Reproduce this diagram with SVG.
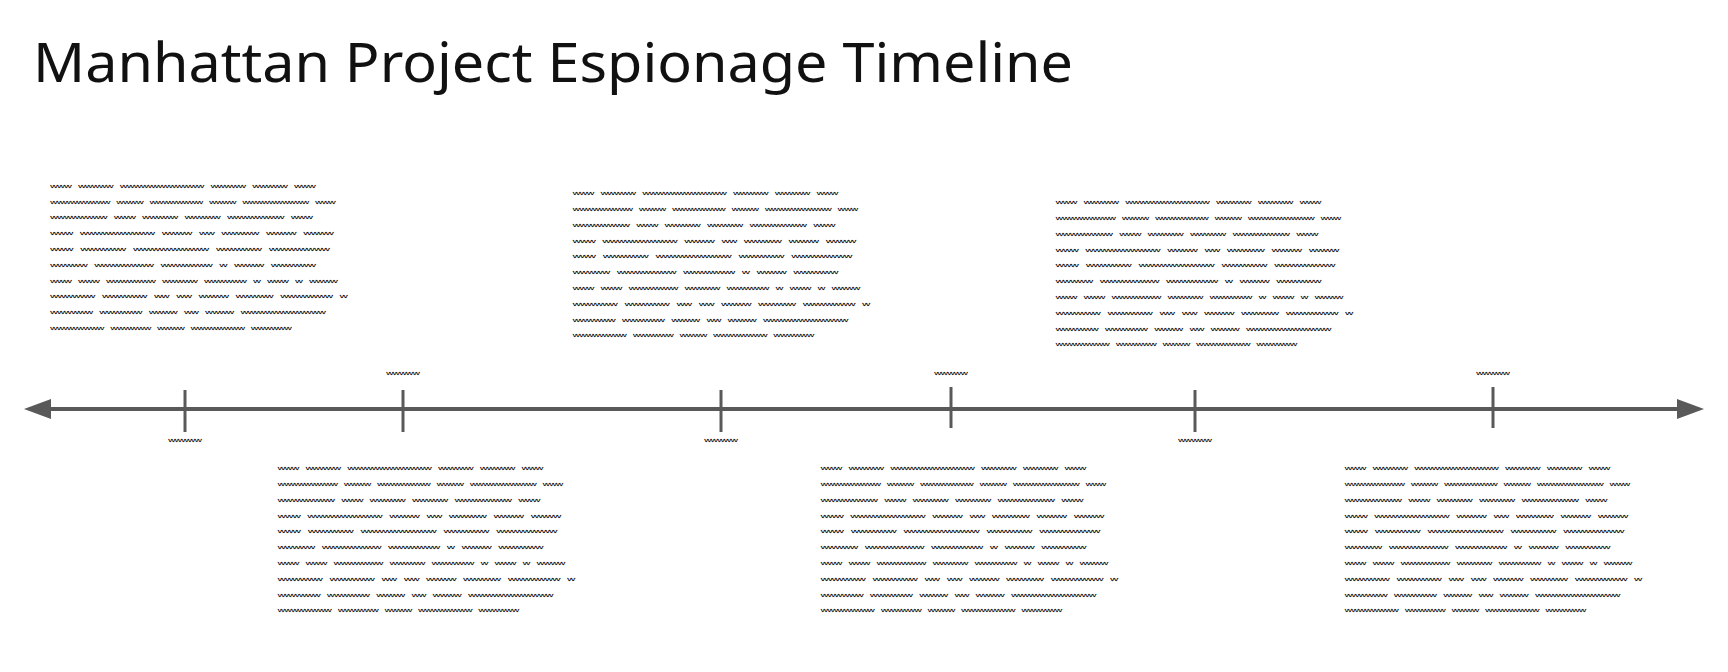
<svg xmlns="http://www.w3.org/2000/svg" width="1728" height="672" viewBox="0 0 1728 672">
<style>
.title{font-family:"Noto Sans","Open Sans",sans-serif;font-size:54px;fill:#111}
.p{font-family:"Noto Sans CJK SC","Noto Sans CJK JP",sans-serif;font-size:9px;fill:#111;stroke:#111;stroke-width:0.4}
.lbl{font-family:"Noto Sans CJK SC","Noto Sans CJK JP",sans-serif;font-size:9px;fill:#111;stroke:#111;stroke-width:0.4;text-anchor:middle}
.axis{stroke:#595959;stroke-width:4;fill:none}
.tick{stroke:#595959;stroke-width:3}
</style>
<defs>
<marker id="arr" viewBox="0 0 27 20" refX="0" refY="10" markerWidth="27" markerHeight="20" markerUnits="userSpaceOnUse" orient="auto-start-reverse">
<path d="M0,0 L27,10 L0,20 Z" fill="#595959"/>
</marker>
</defs>
<rect width="1728" height="672" fill="#fff"/>
<g id="title"><text class="title" x="33" y="82" textLength="1040" lengthAdjust="spacingAndGlyphs">Manhattan Project Espionage Timeline</text></g>
<g id="connectors">
<line class="axis" x1="51" y1="409" x2="1677" y2="409" marker-start="url(#arr)" marker-end="url(#arr)"/>
</g>
<g id="event-1">
<line class="tick" x1="185" y1="390" x2="185" y2="432"/>
<text class="lbl" transform="translate(185,441) scale(1,1.25)" x="0" y="3.42" textLength="33" lengthAdjust="spacingAndGlyphs">〰〰〰〰〰</text>
<g transform="translate(50.5,186.5) scale(1,1.25)">
<text class="p" x="0" y="3.42" textLength="265" lengthAdjust="spacingAndGlyphs">〰〰〰&#12288;〰〰〰〰〰&#12288;〰〰〰〰〰〰〰〰〰〰〰〰&#12288;〰〰〰〰〰&#12288;〰〰〰〰〰&#12288;〰〰〰</text>
<text class="p" x="0" y="16.06" textLength="285" lengthAdjust="spacingAndGlyphs">〰〰〰〰〰〰〰〰〰&#12288;〰〰〰〰&#12288;〰〰〰〰〰〰〰〰&#12288;〰〰〰〰&#12288;〰〰〰〰〰〰〰〰〰〰&#12288;〰〰〰</text>
<text class="p" x="0" y="28.7" textLength="262" lengthAdjust="spacingAndGlyphs">〰〰〰〰〰〰〰〰&#12288;〰〰〰&#12288;〰〰〰〰〰&#12288;〰〰〰〰〰&#12288;〰〰〰〰〰〰〰〰&#12288;〰〰〰</text>
<text class="p" x="0" y="41.34" textLength="283" lengthAdjust="spacingAndGlyphs">〰〰〰&#12288;〰〰〰〰〰〰〰〰〰〰&#12288;〰〰〰〰&#12288;〰〰&#12288;〰〰〰〰〰&#12288;〰〰〰〰&#12288;〰〰〰〰</text>
<text class="p" x="0" y="53.98" textLength="279" lengthAdjust="spacingAndGlyphs">〰〰〰&#12288;〰〰〰〰〰〰&#12288;〰〰〰〰〰〰〰〰〰〰&#12288;〰〰〰〰〰〰&#12288;〰〰〰〰〰〰〰〰</text>
<text class="p" x="0" y="66.62" textLength="265" lengthAdjust="spacingAndGlyphs">〰〰〰〰〰&#12288;〰〰〰〰〰〰〰〰&#12288;〰〰〰〰〰〰〰&#12288;〰&#12288;〰〰〰〰&#12288;〰〰〰〰〰〰</text>
<text class="p" x="0" y="79.26" textLength="287" lengthAdjust="spacingAndGlyphs">〰〰〰&#12288;〰〰〰&#12288;〰〰〰〰〰〰〰&#12288;〰〰〰〰〰&#12288;〰〰〰〰〰〰&#12288;〰&#12288;〰〰〰&#12288;〰&#12288;〰〰〰〰</text>
<text class="p" x="0" y="91.9" textLength="297" lengthAdjust="spacingAndGlyphs">〰〰〰〰〰〰&#12288;〰〰〰〰〰〰&#12288;〰〰&#12288;〰〰&#12288;〰〰〰〰&#12288;〰〰〰〰〰&#12288;〰〰〰〰〰〰〰&#12288;〰</text>
<text class="p" x="0" y="104.54" textLength="275" lengthAdjust="spacingAndGlyphs">〰〰〰〰〰〰&#12288;〰〰〰〰〰〰&#12288;〰〰〰〰&#12288;〰〰&#12288;〰〰〰〰&#12288;〰〰〰〰〰〰〰〰〰〰〰〰</text>
<text class="p" x="0" y="117.18" textLength="241" lengthAdjust="spacingAndGlyphs">〰〰〰〰〰〰〰〰&#12288;〰〰〰〰〰〰&#12288;〰〰〰〰&#12288;〰〰〰〰〰〰〰〰&#12288;〰〰〰〰〰〰</text>
</g>
</g>
<g id="event-2">
<line class="tick" x1="403" y1="390" x2="403" y2="432"/>
<text class="lbl" transform="translate(403,374) scale(1,1.25)" x="0" y="3.42" textLength="33" lengthAdjust="spacingAndGlyphs">〰〰〰〰〰</text>
<g transform="translate(278,469) scale(1,1.25)">
<text class="p" x="0" y="3.42" textLength="265" lengthAdjust="spacingAndGlyphs">〰〰〰&#12288;〰〰〰〰〰&#12288;〰〰〰〰〰〰〰〰〰〰〰〰&#12288;〰〰〰〰〰&#12288;〰〰〰〰〰&#12288;〰〰〰</text>
<text class="p" x="0" y="16.06" textLength="285" lengthAdjust="spacingAndGlyphs">〰〰〰〰〰〰〰〰〰&#12288;〰〰〰〰&#12288;〰〰〰〰〰〰〰〰&#12288;〰〰〰〰&#12288;〰〰〰〰〰〰〰〰〰〰&#12288;〰〰〰</text>
<text class="p" x="0" y="28.7" textLength="262" lengthAdjust="spacingAndGlyphs">〰〰〰〰〰〰〰〰&#12288;〰〰〰&#12288;〰〰〰〰〰&#12288;〰〰〰〰〰&#12288;〰〰〰〰〰〰〰〰&#12288;〰〰〰</text>
<text class="p" x="0" y="41.34" textLength="283" lengthAdjust="spacingAndGlyphs">〰〰〰&#12288;〰〰〰〰〰〰〰〰〰〰&#12288;〰〰〰〰&#12288;〰〰&#12288;〰〰〰〰〰&#12288;〰〰〰〰&#12288;〰〰〰〰</text>
<text class="p" x="0" y="53.98" textLength="279" lengthAdjust="spacingAndGlyphs">〰〰〰&#12288;〰〰〰〰〰〰&#12288;〰〰〰〰〰〰〰〰〰〰&#12288;〰〰〰〰〰〰&#12288;〰〰〰〰〰〰〰〰</text>
<text class="p" x="0" y="66.62" textLength="265" lengthAdjust="spacingAndGlyphs">〰〰〰〰〰&#12288;〰〰〰〰〰〰〰〰&#12288;〰〰〰〰〰〰〰&#12288;〰&#12288;〰〰〰〰&#12288;〰〰〰〰〰〰</text>
<text class="p" x="0" y="79.26" textLength="287" lengthAdjust="spacingAndGlyphs">〰〰〰&#12288;〰〰〰&#12288;〰〰〰〰〰〰〰&#12288;〰〰〰〰〰&#12288;〰〰〰〰〰〰&#12288;〰&#12288;〰〰〰&#12288;〰&#12288;〰〰〰〰</text>
<text class="p" x="0" y="91.9" textLength="297" lengthAdjust="spacingAndGlyphs">〰〰〰〰〰〰&#12288;〰〰〰〰〰〰&#12288;〰〰&#12288;〰〰&#12288;〰〰〰〰&#12288;〰〰〰〰〰&#12288;〰〰〰〰〰〰〰&#12288;〰</text>
<text class="p" x="0" y="104.54" textLength="275" lengthAdjust="spacingAndGlyphs">〰〰〰〰〰〰&#12288;〰〰〰〰〰〰&#12288;〰〰〰〰&#12288;〰〰&#12288;〰〰〰〰&#12288;〰〰〰〰〰〰〰〰〰〰〰〰</text>
<text class="p" x="0" y="117.18" textLength="241" lengthAdjust="spacingAndGlyphs">〰〰〰〰〰〰〰〰&#12288;〰〰〰〰〰〰&#12288;〰〰〰〰&#12288;〰〰〰〰〰〰〰〰&#12288;〰〰〰〰〰〰</text>
</g>
</g>
<g id="event-3">
<line class="tick" x1="721" y1="390" x2="721" y2="432"/>
<text class="lbl" transform="translate(721,441) scale(1,1.25)" x="0" y="3.42" textLength="33" lengthAdjust="spacingAndGlyphs">〰〰〰〰〰</text>
<g transform="translate(573,194) scale(1,1.25)">
<text class="p" x="0" y="3.42" textLength="265" lengthAdjust="spacingAndGlyphs">〰〰〰&#12288;〰〰〰〰〰&#12288;〰〰〰〰〰〰〰〰〰〰〰〰&#12288;〰〰〰〰〰&#12288;〰〰〰〰〰&#12288;〰〰〰</text>
<text class="p" x="0" y="16.06" textLength="285" lengthAdjust="spacingAndGlyphs">〰〰〰〰〰〰〰〰〰&#12288;〰〰〰〰&#12288;〰〰〰〰〰〰〰〰&#12288;〰〰〰〰&#12288;〰〰〰〰〰〰〰〰〰〰&#12288;〰〰〰</text>
<text class="p" x="0" y="28.7" textLength="262" lengthAdjust="spacingAndGlyphs">〰〰〰〰〰〰〰〰&#12288;〰〰〰&#12288;〰〰〰〰〰&#12288;〰〰〰〰〰&#12288;〰〰〰〰〰〰〰〰&#12288;〰〰〰</text>
<text class="p" x="0" y="41.34" textLength="283" lengthAdjust="spacingAndGlyphs">〰〰〰&#12288;〰〰〰〰〰〰〰〰〰〰&#12288;〰〰〰〰&#12288;〰〰&#12288;〰〰〰〰〰&#12288;〰〰〰〰&#12288;〰〰〰〰</text>
<text class="p" x="0" y="53.98" textLength="279" lengthAdjust="spacingAndGlyphs">〰〰〰&#12288;〰〰〰〰〰〰&#12288;〰〰〰〰〰〰〰〰〰〰&#12288;〰〰〰〰〰〰&#12288;〰〰〰〰〰〰〰〰</text>
<text class="p" x="0" y="66.62" textLength="265" lengthAdjust="spacingAndGlyphs">〰〰〰〰〰&#12288;〰〰〰〰〰〰〰〰&#12288;〰〰〰〰〰〰〰&#12288;〰&#12288;〰〰〰〰&#12288;〰〰〰〰〰〰</text>
<text class="p" x="0" y="79.26" textLength="287" lengthAdjust="spacingAndGlyphs">〰〰〰&#12288;〰〰〰&#12288;〰〰〰〰〰〰〰&#12288;〰〰〰〰〰&#12288;〰〰〰〰〰〰&#12288;〰&#12288;〰〰〰&#12288;〰&#12288;〰〰〰〰</text>
<text class="p" x="0" y="91.9" textLength="297" lengthAdjust="spacingAndGlyphs">〰〰〰〰〰〰&#12288;〰〰〰〰〰〰&#12288;〰〰&#12288;〰〰&#12288;〰〰〰〰&#12288;〰〰〰〰〰&#12288;〰〰〰〰〰〰〰&#12288;〰</text>
<text class="p" x="0" y="104.54" textLength="275" lengthAdjust="spacingAndGlyphs">〰〰〰〰〰〰&#12288;〰〰〰〰〰〰&#12288;〰〰〰〰&#12288;〰〰&#12288;〰〰〰〰&#12288;〰〰〰〰〰〰〰〰〰〰〰〰</text>
<text class="p" x="0" y="117.18" textLength="241" lengthAdjust="spacingAndGlyphs">〰〰〰〰〰〰〰〰&#12288;〰〰〰〰〰〰&#12288;〰〰〰〰&#12288;〰〰〰〰〰〰〰〰&#12288;〰〰〰〰〰〰</text>
</g>
</g>
<g id="event-4">
<line class="tick" x1="951" y1="387" x2="951" y2="428"/>
<text class="lbl" transform="translate(951,374) scale(1,1.25)" x="0" y="3.42" textLength="33" lengthAdjust="spacingAndGlyphs">〰〰〰〰〰</text>
<g transform="translate(821,469) scale(1,1.25)">
<text class="p" x="0" y="3.42" textLength="265" lengthAdjust="spacingAndGlyphs">〰〰〰&#12288;〰〰〰〰〰&#12288;〰〰〰〰〰〰〰〰〰〰〰〰&#12288;〰〰〰〰〰&#12288;〰〰〰〰〰&#12288;〰〰〰</text>
<text class="p" x="0" y="16.06" textLength="285" lengthAdjust="spacingAndGlyphs">〰〰〰〰〰〰〰〰〰&#12288;〰〰〰〰&#12288;〰〰〰〰〰〰〰〰&#12288;〰〰〰〰&#12288;〰〰〰〰〰〰〰〰〰〰&#12288;〰〰〰</text>
<text class="p" x="0" y="28.7" textLength="262" lengthAdjust="spacingAndGlyphs">〰〰〰〰〰〰〰〰&#12288;〰〰〰&#12288;〰〰〰〰〰&#12288;〰〰〰〰〰&#12288;〰〰〰〰〰〰〰〰&#12288;〰〰〰</text>
<text class="p" x="0" y="41.34" textLength="283" lengthAdjust="spacingAndGlyphs">〰〰〰&#12288;〰〰〰〰〰〰〰〰〰〰&#12288;〰〰〰〰&#12288;〰〰&#12288;〰〰〰〰〰&#12288;〰〰〰〰&#12288;〰〰〰〰</text>
<text class="p" x="0" y="53.98" textLength="279" lengthAdjust="spacingAndGlyphs">〰〰〰&#12288;〰〰〰〰〰〰&#12288;〰〰〰〰〰〰〰〰〰〰&#12288;〰〰〰〰〰〰&#12288;〰〰〰〰〰〰〰〰</text>
<text class="p" x="0" y="66.62" textLength="265" lengthAdjust="spacingAndGlyphs">〰〰〰〰〰&#12288;〰〰〰〰〰〰〰〰&#12288;〰〰〰〰〰〰〰&#12288;〰&#12288;〰〰〰〰&#12288;〰〰〰〰〰〰</text>
<text class="p" x="0" y="79.26" textLength="287" lengthAdjust="spacingAndGlyphs">〰〰〰&#12288;〰〰〰&#12288;〰〰〰〰〰〰〰&#12288;〰〰〰〰〰&#12288;〰〰〰〰〰〰&#12288;〰&#12288;〰〰〰&#12288;〰&#12288;〰〰〰〰</text>
<text class="p" x="0" y="91.9" textLength="297" lengthAdjust="spacingAndGlyphs">〰〰〰〰〰〰&#12288;〰〰〰〰〰〰&#12288;〰〰&#12288;〰〰&#12288;〰〰〰〰&#12288;〰〰〰〰〰&#12288;〰〰〰〰〰〰〰&#12288;〰</text>
<text class="p" x="0" y="104.54" textLength="275" lengthAdjust="spacingAndGlyphs">〰〰〰〰〰〰&#12288;〰〰〰〰〰〰&#12288;〰〰〰〰&#12288;〰〰&#12288;〰〰〰〰&#12288;〰〰〰〰〰〰〰〰〰〰〰〰</text>
<text class="p" x="0" y="117.18" textLength="241" lengthAdjust="spacingAndGlyphs">〰〰〰〰〰〰〰〰&#12288;〰〰〰〰〰〰&#12288;〰〰〰〰&#12288;〰〰〰〰〰〰〰〰&#12288;〰〰〰〰〰〰</text>
</g>
</g>
<g id="event-5">
<line class="tick" x1="1195" y1="390" x2="1195" y2="432"/>
<text class="lbl" transform="translate(1195,441) scale(1,1.25)" x="0" y="3.42" textLength="33" lengthAdjust="spacingAndGlyphs">〰〰〰〰〰</text>
<g transform="translate(1056,203) scale(1,1.25)">
<text class="p" x="0" y="3.42" textLength="265" lengthAdjust="spacingAndGlyphs">〰〰〰&#12288;〰〰〰〰〰&#12288;〰〰〰〰〰〰〰〰〰〰〰〰&#12288;〰〰〰〰〰&#12288;〰〰〰〰〰&#12288;〰〰〰</text>
<text class="p" x="0" y="16.06" textLength="285" lengthAdjust="spacingAndGlyphs">〰〰〰〰〰〰〰〰〰&#12288;〰〰〰〰&#12288;〰〰〰〰〰〰〰〰&#12288;〰〰〰〰&#12288;〰〰〰〰〰〰〰〰〰〰&#12288;〰〰〰</text>
<text class="p" x="0" y="28.7" textLength="262" lengthAdjust="spacingAndGlyphs">〰〰〰〰〰〰〰〰&#12288;〰〰〰&#12288;〰〰〰〰〰&#12288;〰〰〰〰〰&#12288;〰〰〰〰〰〰〰〰&#12288;〰〰〰</text>
<text class="p" x="0" y="41.34" textLength="283" lengthAdjust="spacingAndGlyphs">〰〰〰&#12288;〰〰〰〰〰〰〰〰〰〰&#12288;〰〰〰〰&#12288;〰〰&#12288;〰〰〰〰〰&#12288;〰〰〰〰&#12288;〰〰〰〰</text>
<text class="p" x="0" y="53.98" textLength="279" lengthAdjust="spacingAndGlyphs">〰〰〰&#12288;〰〰〰〰〰〰&#12288;〰〰〰〰〰〰〰〰〰〰&#12288;〰〰〰〰〰〰&#12288;〰〰〰〰〰〰〰〰</text>
<text class="p" x="0" y="66.62" textLength="265" lengthAdjust="spacingAndGlyphs">〰〰〰〰〰&#12288;〰〰〰〰〰〰〰〰&#12288;〰〰〰〰〰〰〰&#12288;〰&#12288;〰〰〰〰&#12288;〰〰〰〰〰〰</text>
<text class="p" x="0" y="79.26" textLength="287" lengthAdjust="spacingAndGlyphs">〰〰〰&#12288;〰〰〰&#12288;〰〰〰〰〰〰〰&#12288;〰〰〰〰〰&#12288;〰〰〰〰〰〰&#12288;〰&#12288;〰〰〰&#12288;〰&#12288;〰〰〰〰</text>
<text class="p" x="0" y="91.9" textLength="297" lengthAdjust="spacingAndGlyphs">〰〰〰〰〰〰&#12288;〰〰〰〰〰〰&#12288;〰〰&#12288;〰〰&#12288;〰〰〰〰&#12288;〰〰〰〰〰&#12288;〰〰〰〰〰〰〰&#12288;〰</text>
<text class="p" x="0" y="104.54" textLength="275" lengthAdjust="spacingAndGlyphs">〰〰〰〰〰〰&#12288;〰〰〰〰〰〰&#12288;〰〰〰〰&#12288;〰〰&#12288;〰〰〰〰&#12288;〰〰〰〰〰〰〰〰〰〰〰〰</text>
<text class="p" x="0" y="117.18" textLength="241" lengthAdjust="spacingAndGlyphs">〰〰〰〰〰〰〰〰&#12288;〰〰〰〰〰〰&#12288;〰〰〰〰&#12288;〰〰〰〰〰〰〰〰&#12288;〰〰〰〰〰〰</text>
</g>
</g>
<g id="event-6">
<line class="tick" x1="1493" y1="387" x2="1493" y2="428"/>
<text class="lbl" transform="translate(1493,374) scale(1,1.25)" x="0" y="3.42" textLength="33" lengthAdjust="spacingAndGlyphs">〰〰〰〰〰</text>
<g transform="translate(1345,469) scale(1,1.25)">
<text class="p" x="0" y="3.42" textLength="265" lengthAdjust="spacingAndGlyphs">〰〰〰&#12288;〰〰〰〰〰&#12288;〰〰〰〰〰〰〰〰〰〰〰〰&#12288;〰〰〰〰〰&#12288;〰〰〰〰〰&#12288;〰〰〰</text>
<text class="p" x="0" y="16.06" textLength="285" lengthAdjust="spacingAndGlyphs">〰〰〰〰〰〰〰〰〰&#12288;〰〰〰〰&#12288;〰〰〰〰〰〰〰〰&#12288;〰〰〰〰&#12288;〰〰〰〰〰〰〰〰〰〰&#12288;〰〰〰</text>
<text class="p" x="0" y="28.7" textLength="262" lengthAdjust="spacingAndGlyphs">〰〰〰〰〰〰〰〰&#12288;〰〰〰&#12288;〰〰〰〰〰&#12288;〰〰〰〰〰&#12288;〰〰〰〰〰〰〰〰&#12288;〰〰〰</text>
<text class="p" x="0" y="41.34" textLength="283" lengthAdjust="spacingAndGlyphs">〰〰〰&#12288;〰〰〰〰〰〰〰〰〰〰&#12288;〰〰〰〰&#12288;〰〰&#12288;〰〰〰〰〰&#12288;〰〰〰〰&#12288;〰〰〰〰</text>
<text class="p" x="0" y="53.98" textLength="279" lengthAdjust="spacingAndGlyphs">〰〰〰&#12288;〰〰〰〰〰〰&#12288;〰〰〰〰〰〰〰〰〰〰&#12288;〰〰〰〰〰〰&#12288;〰〰〰〰〰〰〰〰</text>
<text class="p" x="0" y="66.62" textLength="265" lengthAdjust="spacingAndGlyphs">〰〰〰〰〰&#12288;〰〰〰〰〰〰〰〰&#12288;〰〰〰〰〰〰〰&#12288;〰&#12288;〰〰〰〰&#12288;〰〰〰〰〰〰</text>
<text class="p" x="0" y="79.26" textLength="287" lengthAdjust="spacingAndGlyphs">〰〰〰&#12288;〰〰〰&#12288;〰〰〰〰〰〰〰&#12288;〰〰〰〰〰&#12288;〰〰〰〰〰〰&#12288;〰&#12288;〰〰〰&#12288;〰&#12288;〰〰〰〰</text>
<text class="p" x="0" y="91.9" textLength="297" lengthAdjust="spacingAndGlyphs">〰〰〰〰〰〰&#12288;〰〰〰〰〰〰&#12288;〰〰&#12288;〰〰&#12288;〰〰〰〰&#12288;〰〰〰〰〰&#12288;〰〰〰〰〰〰〰&#12288;〰</text>
<text class="p" x="0" y="104.54" textLength="275" lengthAdjust="spacingAndGlyphs">〰〰〰〰〰〰&#12288;〰〰〰〰〰〰&#12288;〰〰〰〰&#12288;〰〰&#12288;〰〰〰〰&#12288;〰〰〰〰〰〰〰〰〰〰〰〰</text>
<text class="p" x="0" y="117.18" textLength="241" lengthAdjust="spacingAndGlyphs">〰〰〰〰〰〰〰〰&#12288;〰〰〰〰〰〰&#12288;〰〰〰〰&#12288;〰〰〰〰〰〰〰〰&#12288;〰〰〰〰〰〰</text>
</g>
</g>
</svg>
